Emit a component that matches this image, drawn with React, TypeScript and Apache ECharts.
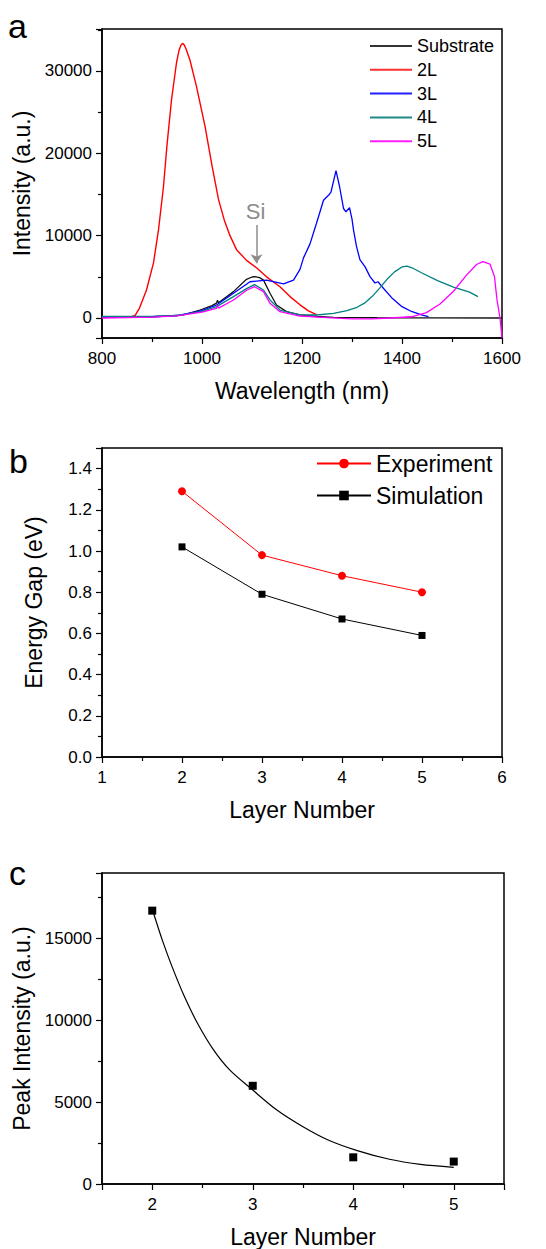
import React, { useEffect, useRef } from "react";
import * as echarts from "echarts";

// ---------- Panel a : PL spectra (wavelength nm, intensity a.u.) ----------
const substrate: number[][] = [
  [800, 100], [850, 100], [900, 150], [940, 250], [963, 365], [996, 970], [1020, 1500],
  [1029, 1800], [1031, 2150], [1033, 1850], [1063, 3200], [1089, 4700], [1100, 4980],
  [1106, 5020], [1115, 4900], [1123, 4600], [1136, 3000], [1149, 1580], [1169, 770],
  [1196, 365], [1230, 180], [1263, 80], [1350, 30], [1450, 10], [1600, 0],
];
const spec2L: number[][] = [
  [800, 150], [820, 100], [840, 80], [855, 100], [866, 300], [875, 1200], [889, 3400],
  [903, 6700], [913, 10700], [923, 16000], [930, 21000], [939, 26500], [949, 31000],
  [954, 32500], [958, 33150], [961, 33350], [964, 33200], [968, 32700], [976, 31300],
  [989, 28100], [1006, 23300], [1020, 18500], [1033, 14400], [1045, 11800], [1056, 10000],
  [1069, 8300], [1089, 7000], [1109, 6100], [1129, 5000], [1156, 3800], [1176, 2600],
  [1196, 1600], [1212, 900], [1229, 400],
];
const spec3L: number[][] = [
  [800, 100], [900, 150], [950, 300], [1000, 900], [1029, 1580], [1063, 3000], [1096, 4400],
  [1129, 4600], [1163, 4150], [1183, 4600], [1196, 5900], [1203, 7300], [1216, 9000],
  [1229, 11500], [1243, 14300], [1253, 14900], [1258, 15300], [1268, 17900], [1275, 16000],
  [1283, 13300], [1288, 12900], [1295, 13400], [1300, 12000], [1303, 10700], [1309, 8700],
  [1316, 7050], [1326, 6240], [1336, 5020], [1346, 4250], [1352, 4400], [1361, 3740],
  [1381, 2360], [1400, 1380], [1419, 790], [1439, 390], [1453, 180],
];
const spec4L: number[][] = [
  [800, 200], [900, 200], [950, 300], [1000, 800], [1029, 1380], [1063, 2600], [1090, 3600],
  [1105, 4050], [1123, 3400], [1136, 2190], [1156, 970], [1196, 365], [1229, 365],
  [1263, 570], [1290, 900], [1310, 1300], [1325, 1800], [1340, 2600], [1355, 3600],
  [1370, 4700], [1385, 5600], [1400, 6200], [1410, 6300], [1420, 6100], [1439, 5500],
  [1471, 4530], [1503, 3740], [1535, 3150], [1552, 2600],
];
const spec5L: number[][] = [
  [800, 0], [900, 100], [950, 250], [1000, 700], [1029, 1170], [1031, 1500], [1033, 1200],
  [1063, 2190], [1090, 3400], [1105, 3800], [1123, 3200], [1136, 1780], [1156, 770],
  [1196, 240], [1250, 50], [1300, -100], [1340, -100], [1376, 0], [1419, 150], [1449, 650],
  [1476, 1700], [1503, 3250], [1529, 5200], [1549, 6500], [1562, 6850], [1576, 6550],
  [1585, 5000], [1590, 2200], [1596, 0], [1600, -2400],
];
const siArrow: number[][] = [[1109, 11300], [1109, 6650]];
const siLabelAt: number[] = [1107, 12950];

// ---------- Panel b : energy gap ----------
const layersB: number[] = [2, 3, 4, 5];
const experimentGap: number[] = [1.29, 0.98, 0.88, 0.8];
const simulationGap: number[] = [1.02, 0.79, 0.67, 0.59];

// ---------- Panel c : peak intensity ----------
const layersC: number[] = [2, 3, 4, 5];
const peakIntensity: number[] = [16700, 6000, 1630, 1370];
const fitCurve: number[][] = [
  [2.013, 16540], [2.1, 14900], [2.197, 13280], [2.32, 11450], [2.45, 9820], [2.61, 8190],
  [2.77, 6970], [3.0, 5740], [3.24, 4520], [3.5, 3500], [3.75, 2690], [4.04, 2040],
  [4.36, 1510], [4.67, 1200], [5.0, 1020],
];

const FONT = "'Liberation Sans', Arial, Helvetica, sans-serif";

function axisBase(extra: any) {
  return {
    type: "value",
    axisLine: { show: true, onZero: false, lineStyle: { color: "#000", width: 1.5 } },
    axisTick: { show: true, length: 6, lineStyle: { color: "#000", width: 1.2 } },
    minorTick: { show: true, splitNumber: 2, length: 4, lineStyle: { color: "#000", width: 1.2 } },
    splitLine: { show: false },
    minorSplitLine: { show: false },
    nameLocation: "middle",
    nameTextStyle: { fontSize: 23, color: "#000", fontFamily: FONT },
    ...extra,
    axisLabel: {
      fontSize: 17, color: "#000", fontFamily: FONT,
      formatter: (v: number) => String(v),
      ...(extra.axisLabel || {}),
    },
  };
}

export default function App() {
  const ref = useRef<HTMLDivElement>(null);
  useEffect(() => {
    const chart = echarts.init(ref.current!, null, { renderer: "svg" });
    const grids = [
      { left: 102, top: 29, width: 400, height: 309 },
      { left: 102, top: 448, width: 400, height: 309 },
      { left: 102, top: 873, width: 402, height: 312 },
    ].map((g) => ({ ...g, show: true, borderColor: "#000", borderWidth: 1.5, containLabel: false }));

    const option: any = {
      animation: false,
      backgroundColor: "#fff",
      textStyle: { fontFamily: FONT },
      grid: grids,
      xAxis: [
        axisBase({ gridIndex: 0, min: 800, max: 1600, interval: 200, name: "Wavelength (nm)", nameGap: 41, axisLabel: { margin: 12 } }),
        axisBase({ gridIndex: 1, min: 1, max: 6, interval: 1, name: "Layer Number", nameGap: 41, axisLabel: { margin: 12 } }),
        axisBase({ gridIndex: 2, min: 1.5, max: 5.5, splitNumber: 4, name: "Layer Number", nameGap: 41, axisLabel: { margin: 12, showMinLabel: false, showMaxLabel: false } }),
      ],
      yAxis: [
        axisBase({ gridIndex: 0, min: -2430, max: 35100, splitNumber: 4, name: "Intensity (a.u.)", nameGap: 62, axisLabel: { margin: 10, showMinLabel: false, showMaxLabel: false } }),
        axisBase({ gridIndex: 1, min: 0, max: 1.5, interval: 0.2, name: "Energy Gap (eV)", nameGap: 57, axisLabel: { margin: 10, showMaxLabel: false, formatter: (v: number) => v.toFixed(1) } }),
        axisBase({ gridIndex: 2, min: 0, max: 19000, interval: 5000, name: "Peak Intensity (a.u.)", nameGap: 61, axisLabel: { margin: 10, showMaxLabel: false } }),
      ],
      legend: [
        {
          data: ["Substrate", "2L", "3L", "4L", "5L"].map((n) => ({ name: n, icon: "rect" })),
          orient: "vertical",
          left: 370,
          top: 37,
          padding: 0,
          itemWidth: 42,
          itemHeight: 2,
          itemGap: 5.8,
          textStyle: { fontSize: 18, color: "#000", fontFamily: FONT },
        },
        {
          data: ["Experiment", "Simulation"],
          orient: "vertical",
          left: 316,
          top: 452,
          padding: 0,
          itemWidth: 54,
          itemHeight: 12,
          itemGap: 9,
          textStyle: { fontSize: 23, color: "#000", fontFamily: FONT },
        },
      ],
      graphic: [
        { type: "text", x: 8, y: 26, style: { text: "a", fontSize: 34, fontFamily: FONT, fill: "#000", verticalAlign: "middle" } },
        { type: "text", x: 9, y: 461, style: { text: "b", fontSize: 34, fontFamily: FONT, fill: "#000", verticalAlign: "middle" } },
        { type: "text", x: 9, y: 873, style: { text: "c", fontSize: 34, fontFamily: FONT, fill: "#000", verticalAlign: "middle" } },
      ],
      series: [
        {
          name: "Substrate", type: "line", xAxisIndex: 0, yAxisIndex: 0, data: substrate,
          symbol: "none", showSymbol: false, lineStyle: { color: "#111", width: 1.3 }, itemStyle: { color: "#333" },
          markLine: {
            silent: true, symbol: ["none", "arrow"], symbolSize: 9,
            lineStyle: { color: "#8c8c8c", width: 1.5, type: "solid" }, label: { show: false },
            data: [[{ coord: siArrow[0] }, { coord: siArrow[1] }]],
          },
          markPoint: {
            silent: true, symbol: "rect", symbolSize: 1, itemStyle: { color: "rgba(0,0,0,0)" },
            label: { show: true, position: "inside", formatter: "Si", fontSize: 22, color: "#8c8c8c", fontFamily: FONT },
            data: [{ coord: siLabelAt }],
          },
        },
        { name: "2L", type: "line", xAxisIndex: 0, yAxisIndex: 0, data: spec2L, symbol: "none", showSymbol: false, lineStyle: { color: "#ff0000", width: 1.4 }, itemStyle: { color: "#ff3030" } },
        { name: "3L", type: "line", xAxisIndex: 0, yAxisIndex: 0, data: spec3L, symbol: "none", showSymbol: false, lineStyle: { color: "#0000ff", width: 1.3 }, itemStyle: { color: "#2020ff" } },
        { name: "4L", type: "line", xAxisIndex: 0, yAxisIndex: 0, data: spec4L, symbol: "none", showSymbol: false, lineStyle: { color: "#008080", width: 1.3 }, itemStyle: { color: "#208a8a" } },
        { name: "5L", type: "line", xAxisIndex: 0, yAxisIndex: 0, data: spec5L, symbol: "none", showSymbol: false, lineStyle: { color: "#ff00ff", width: 1.3 }, itemStyle: { color: "#ff20ff" } },
        {
          name: "Experiment", type: "line", xAxisIndex: 1, yAxisIndex: 1,
          data: layersB.map((l, i) => [l, experimentGap[i]]),
          symbol: "circle", symbolSize: 8, lineStyle: { color: "#ff0000", width: 1 }, itemStyle: { color: "#ff0000" },
        },
        {
          name: "Simulation", type: "line", xAxisIndex: 1, yAxisIndex: 1,
          data: layersB.map((l, i) => [l, simulationGap[i]]),
          symbol: "rect", symbolSize: 7, lineStyle: { color: "#000", width: 1 }, itemStyle: { color: "#000" },
        },
        {
          name: "Fit", type: "line", xAxisIndex: 2, yAxisIndex: 2, data: fitCurve,
          smooth: 0.3, symbol: "none", showSymbol: false, lineStyle: { color: "#000", width: 1.2 },
        },
        {
          name: "Peak", type: "scatter", xAxisIndex: 2, yAxisIndex: 2,
          data: layersC.map((l, i) => [l, peakIntensity[i]]),
          symbol: "rect", symbolSize: 8, itemStyle: { color: "#000", opacity: 1 },
        },
      ],
    };
    chart.setOption(option);
    return () => chart.dispose();
  }, []);
  return <div ref={ref} style={{ position: "absolute", left: 0, top: 0, width: 546, height: 1249 }} />;
}
